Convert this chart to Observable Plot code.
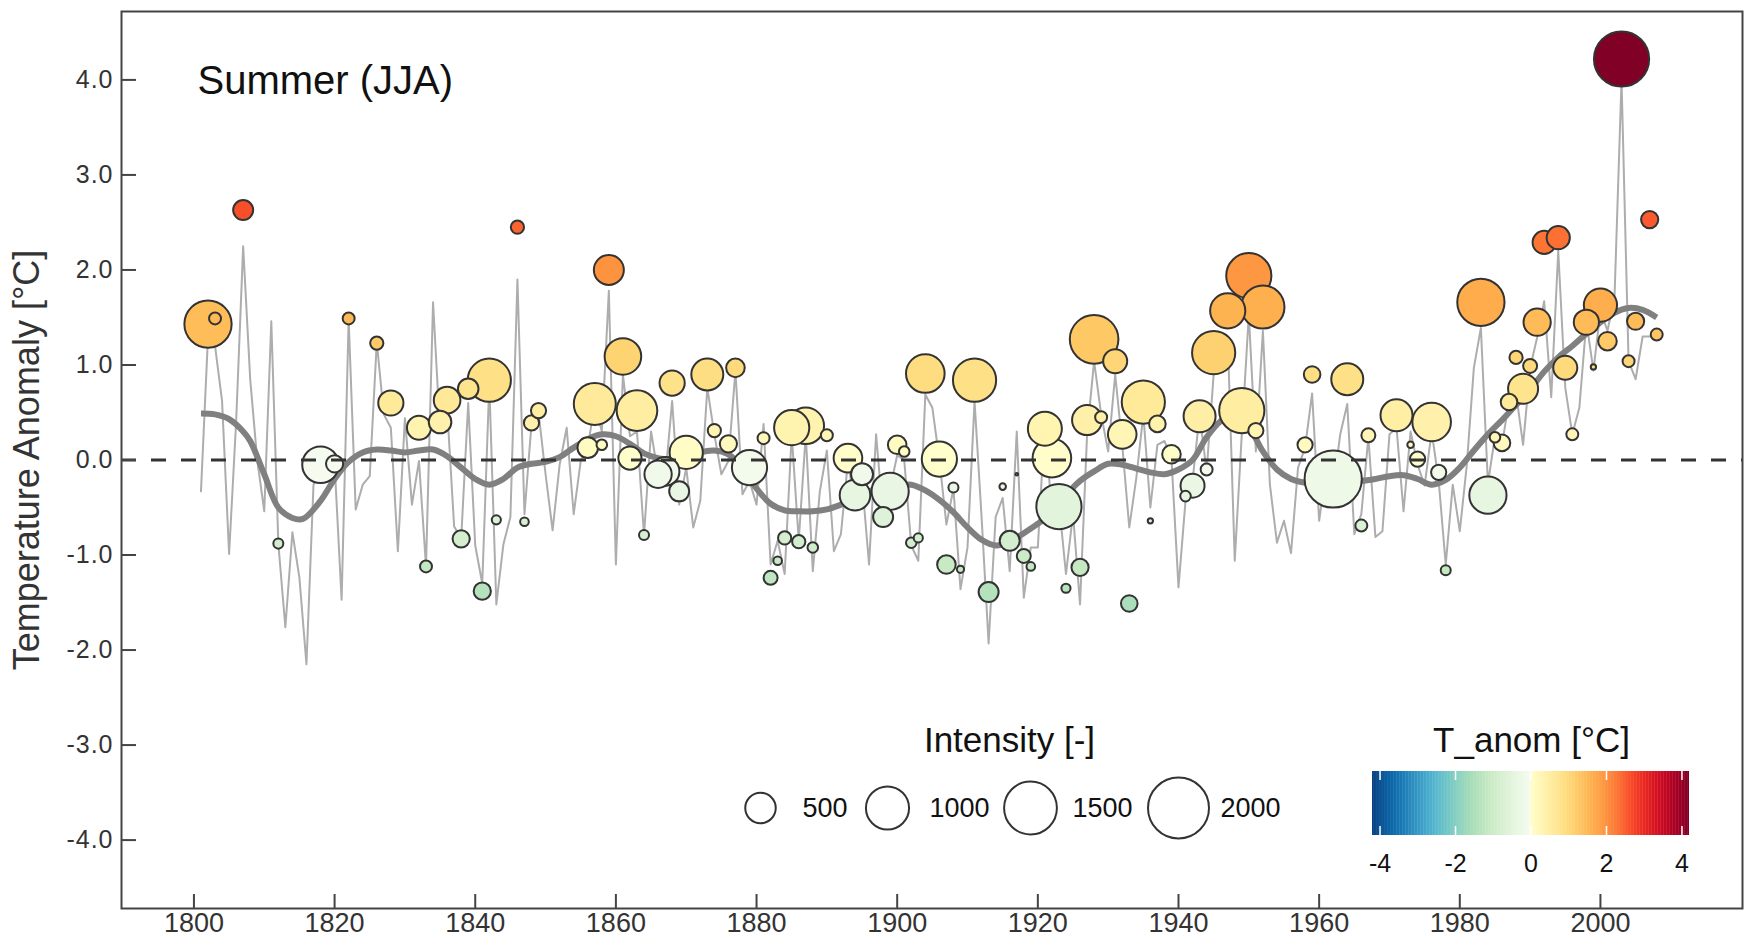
<!DOCTYPE html>
<html>
<head>
<meta charset="utf-8">
<script src="https://cdn.jsdelivr.net/npm/d3@7"></script>
<script src="https://cdn.jsdelivr.net/npm/@observablehq/plot@0.6"></script>
<style>
  body { margin: 0; background: #fff; }
  #wrap { position: relative; width: 1744px; height: 939px; overflow: hidden; }
  #wrap svg { position: absolute; left: 0; top: 0; }
</style>
</head>
<body>
<div id="wrap"></div>
<script>
// ---------------- DATA ----------------
const annualFirstYear = 1801;
// Summer (JJA) temperature anomaly, one value per year 1801..2008
const annualAnomaly = [
  -0.33, 1.30, 1.20, 0.62, -0.99, 0.40, 2.25, 0.85, 0.00, -0.54,
  1.46, -0.88, -1.76, -0.76, -1.24, -2.15, -0.26, -0.10, 0.05, -0.04,
  -1.47, 1.48, -0.52, -0.26, -0.17, 1.24, 0.48, 0.34, -0.96, 0.44,
  -0.47, -0.01, -1.12, 1.66, 0.30, 0.55, -0.70, -0.83, 0.60, -0.90,
  -1.30, 0.80, -1.52, -0.89, -0.60, 1.90, -0.57, 0.38, 0.50, -0.15,
  -0.74, -0.05, 0.34, -0.57, -0.01, 0.13, 0.60, 0.30, 1.78, -1.10,
  0.90, 0.25, 0.30, -0.79, 0.30, -0.15, -0.20, 0.62, -0.47, -0.08,
  -0.71, -0.43, 0.76, 0.27, -0.15, -0.01, 0.94, -0.36, -0.22, -0.47,
  0.38, -1.10, -0.85, -1.20, 0.27, -0.85, 0.27, -1.17, -0.33, 0.10,
  -0.96, -0.78, -0.01, -0.50, -0.22, -1.10, 0.27, -0.60, -0.30, 0.05,
  0.00, -0.90, -1.06, 0.69, 0.55, 0.00, -0.68, -0.30, -1.36, -0.92,
  0.62, -0.60, -1.93, -0.60, -0.40, -1.17, 0.30, -1.45, -0.92, -0.92,
  0.41, -0.57, -0.45, -1.20, -0.57, -1.52, 0.27, 1.04, 0.48, 0.09,
  0.90, 0.16, -0.71, -0.19, 0.48, -0.50, 0.16, 0.20, 0.02, -1.34,
  -0.43, -0.22, 0.48, -0.12, 0.90, 1.20, 1.30, -1.06, 0.27, 1.53,
  0.09, 1.36, -0.26, -0.87, -0.64, -0.98, -0.08, 0.13, 0.70, -0.64,
  -0.10, -0.30, 0.27, 0.59, -0.78, -0.57, 0.24, -0.81, -0.75, 0.27,
  0.34, -0.54, 0.30, -0.05, -0.27, 0.30, -0.22, -1.10, -0.26, -0.75,
  -0.05, 0.97, 1.39, -0.25, 0.25, 0.16, 0.62, 0.70, 0.16, 0.97,
  1.29, 1.67, 0.66, 2.20, 0.76, 0.27, 0.55, 1.46, 0.94, 1.57,
  1.36, 1.71, 4.00, 1.04, 0.85, 1.30, 1.30, 1.32
];

// smoothed curve (read at knots)
const smoothYears = [1801,1803,1805,1807,1808,1810,1812,1814,1815.5,1818,1820,1822,1824,1826,1828,1830,1832,1834,1836,1838,1840,1842,1844,1846,1848,1850,1852,1854,1856,1858,1860,1862,1864,1866,1868,1870,1872,1874,1876,1878,1880,1882,1884,1886,1888,1890,1892,1894,1896,1898,1900,1902,1904,1906,1908,1910,1912,1914,1916,1918,1920,1922,1924,1926,1928,1930,1932,1934,1936,1938,1940,1942,1944,1946,1948,1950,1952,1954,1956,1958,1960,1962,1964,1966,1968,1970,1972,1974,1976,1978,1980,1982,1984,1986,1988,1990,1992,1994,1996,1998,2000,2002,2004,2006,2008];
const smoothValues = [0.49,0.48,0.43,0.30,0.20,-0.15,-0.50,-0.61,-0.62,-0.43,-0.20,-0.02,0.08,0.11,0.10,0.08,0.10,0.11,0.04,-0.08,-0.20,-0.26,-0.20,-0.08,-0.04,-0.02,0.03,0.13,0.22,0.27,0.25,0.17,0.07,0.02,0.01,0.02,0.08,0.10,0.06,-0.08,-0.30,-0.46,-0.53,-0.54,-0.54,-0.52,-0.47,-0.41,-0.33,-0.29,-0.27,-0.26,-0.32,-0.42,-0.55,-0.71,-0.84,-0.90,-0.86,-0.77,-0.67,-0.55,-0.37,-0.22,-0.12,-0.04,-0.05,-0.09,-0.13,-0.15,-0.10,0.00,0.24,0.41,0.48,0.35,0.09,-0.10,-0.20,-0.24,-0.24,-0.22,-0.22,-0.22,-0.20,-0.17,-0.16,-0.20,-0.26,-0.21,-0.08,0.10,0.27,0.42,0.58,0.74,0.93,1.08,1.20,1.33,1.45,1.55,1.60,1.58,1.50];

// heat events: year, anomaly [°C], intensity [-]
const eventYears = [1802,1803,1807,1812,1818,1820,1822,1826,1828,1832,1833,1835,1836,1838,1839,1841,1842,1843,1846,1847,1848,1849,1856,1857,1858,1859,1861,1862,1863,1864,1866,1867,1868,1869,1870,1873,1874,1876,1877,1879,1881,1882,1883,1884,1885,1886,1887,1888,1890,1893,1894,1895,1898,1899,1900,1901,1902,1903,1904,1906,1907,1908,1909,1911,1913,1915,1916,1917,1918,1919,1921,1922,1923,1924,1926,1927,1928,1929,1931,1932,1933,1935,1936,1937,1939,1941,1942,1943,1944,1945,1947,1949,1950,1951,1952,1958,1959,1962,1964,1966,1967,1971,1973,1974,1976,1977,1978,1983,1984,1985,1986,1987,1988,1989,1990,1991,1992,1994,1995,1996,1998,1999,2000,2001,2003,2004,2005,2007,2008];
const eventAnomaly = [1.43,1.49,2.63,-0.88,-0.05,-0.04,1.49,1.23,0.60,0.34,-1.12,0.40,0.63,-0.83,0.75,-1.38,0.84,-0.63,2.45,-0.65,0.39,0.52,0.13,0.59,0.16,2.00,1.09,0.02,0.52,-0.79,-0.15,-0.12,0.81,-0.33,0.08,0.90,0.31,0.17,0.97,-0.08,0.23,-1.24,-1.06,-0.82,0.34,-0.86,0.36,-0.92,0.26,0.02,-0.37,-0.15,-0.60,-0.33,0.16,0.09,-0.87,-0.82,0.91,0.01,-1.10,-0.29,-1.15,0.84,-1.39,-0.28,-0.85,-0.15,-1.01,-1.12,0.33,0.02,-0.49,-1.35,-1.13,0.42,1.27,0.45,1.04,0.27,-1.51,0.61,-0.64,0.38,0.06,-0.38,-0.27,0.46,-0.10,1.13,1.57,0.52,1.94,0.31,1.61,0.16,0.90,-0.20,0.85,-0.69,0.26,0.47,0.16,0.01,0.40,-0.13,-1.16,1.66,-0.37,0.24,0.18,0.61,1.08,0.75,0.99,1.45,2.29,2.34,0.97,0.27,1.45,0.98,1.63,1.25,4.22,1.04,1.46,2.53,1.32];
const eventIntensity = [1200,77,215,54,720,159,77,94,341,310,77,275,380,159,228,159,1003,45,94,40,124,124,228,948,60,484,720,289,886,54,400,440,341,215,593,550,94,159,186,666,77,105,40,94,666,94,720,60,77,440,503,260,215,744,186,60,60,45,801,666,186,54,28,1003,215,23,215,4,105,40,621,801,1098,45,159,484,1270,77,310,440,148,1003,15,148,186,60,310,550,77,1003,666,1098,1098,124,1003,124,148,1759,550,77,105,550,23,124,801,124,54,1200,744,60,148,148,94,484,105,398,289,289,310,77,341,15,593,186,1638,77,159,159,77];

// ticks / legend values
const yTicks = [-4, -3, -2, -1, 0, 1, 2, 3, 4];
const xTicks = [1800, 1820, 1840, 1860, 1880, 1900, 1920, 1940, 1960, 1980, 2000];
const sizeLegendValues = [500, 1000, 1500, 2000];
const colorTicks = [-4, -2, 0, 2, 4];
const panelTitle = "Summer (JJA)";
const yTitle = "Temperature Anomaly [°C]";
const sizeTitle = "Intensity [-]";
const colorTitle = "T_anom [°C]";

// ---------------- TABLES ----------------
const annual = annualAnomaly.map((v, i) => ({year: annualFirstYear + i, anom: v}));
const smooth = smoothYears.map((y, i) => ({year: y, anom: smoothValues[i]}));
const events = eventYears.map((y, i) => ({year: y, anom: eventAnomaly[i], intensity: eventIntensity[i]}));

// ---------------- SCALES ----------------
const font = "'Liberation Sans', Arial, Helvetica, sans-serif";
const W = 1744, H = 939;
const mL = 121, mR = 2, mT = 11, mB = 31;
const innerW = W - mL - mR, innerH = H - mT - mB;

const tempInterp = t => t < 0.5 ? d3.interpolateGnBu((0.5 - t) * 2) : d3.interpolateYlOrRd((t - 0.5) * 2);
const colorOpts = {type: "linear", domain: [-4.2, 4.2], interpolate: tempInterp, clamp: true};
const rOpts = {type: "sqrt", domain: [0, 2000], range: [0, 30.5]};

const wrap = document.getElementById("wrap");

const main = Plot.plot({
  width: W, height: H,
  marginLeft: mL, marginRight: mR, marginTop: mT, marginBottom: mB,
  style: {fontFamily: font, color: "#333", background: "white"},
  x: {domain: [1789.7, 2020.2]},
  y: {domain: [-4.72, 4.72]},
  color: colorOpts,
  r: rOpts,
  marks: [
    Plot.lineY(annual, {x: "year", y: "anom", stroke: "#adadad", strokeWidth: 2}),
    Plot.line(smooth, {x: "year", y: "anom", stroke: "#808080", strokeWidth: 6, curve: "catmull-rom", strokeLinecap: "butt"}),
    Plot.dot(events, {x: "year", y: "anom", r: "intensity", fill: "anom", stroke: "#333", strokeWidth: 2}),
    Plot.ruleY([0], {stroke: "#333", strokeWidth: 3, strokeDasharray: "15,15"}),
    Plot.ruleY(yTicks, {y: d => d, stroke: "#444", strokeWidth: 2, insetRight: innerW - 15}),
    Plot.ruleX(xTicks, {x: d => d, stroke: "#444", strokeWidth: 2, insetTop: innerH - 14}),
    Plot.axisY(yTicks, {tickSize: 0, tickPadding: 8, tickFormat: d => d.toFixed(1), fontSize: 25, label: null}),
    Plot.axisX(xTicks, {tickSize: 0, tickPadding: 4, tickFormat: d => String(d), fontSize: 27, label: null}),
    Plot.frame({stroke: "#444", strokeWidth: 2}),
    Plot.text([panelTitle], {frameAnchor: "top-left", dx: 76, dy: 70, textAnchor: "start", lineAnchor: "middle", fontSize: 40, fill: "#111"}),
    Plot.text([yTitle], {frameAnchor: "left", dx: -94, rotate: -90, textAnchor: "middle", lineAnchor: "middle", fontSize: 36, fill: "#333"})
  ]
});
wrap.appendChild(main);
// slightly wider spacing of the y tick labels, as in the original
d3.select(main).selectAll("g[aria-label='y-axis tick label'] text").attr("letter-spacing", "1px");

// ---------------- SIZE LEGEND ----------------
const sizeLegend = Plot.plot({
  width: W, height: H, margin: 0,
  style: {fontFamily: font, color: "#111", background: "transparent"},
  x: {type: "linear", domain: sizeLegendValues, range: [760, 887, 1030, 1178], axis: null},
  r: rOpts,
  marks: [
    Plot.dot(sizeLegendValues, {x: d => d, r: d => d, dy: 807.5 - H / 2, fill: "none", stroke: "#333", strokeWidth: 2}),
    Plot.text(sizeLegendValues, {x: d => d, text: d => String(d), dx: 42, dy: 808 - H / 2, textAnchor: "start", lineAnchor: "middle", fontSize: 27, fill: "#111"}),
    Plot.text([sizeTitle], {frameAnchor: "top-left", dx: 1009, dy: 740, textAnchor: "middle", lineAnchor: "middle", fontSize: 35, fill: "#111"})
  ]
});
sizeLegend.style.pointerEvents = "none";
wrap.appendChild(sizeLegend);

// ---------------- COLOR BAR ----------------
const barSlices = d3.range(-4.2, 4.2, 0.04);
const barTop = 771, barBottom = 835;
const colorLegend = Plot.plot({
  width: W, height: H, margin: 0,
  style: {fontFamily: font, color: "#111", background: "transparent"},
  x: {type: "linear", domain: [-4.2, 4.2], range: [1372, 1689], axis: null},
  color: colorOpts,
  marks: [
    Plot.rect(barSlices, {x1: d => d, x2: d => Math.min(4.2, d + 0.05), fill: d => d + 0.02, insetTop: barTop, insetBottom: H - barBottom}),
    Plot.ruleX(colorTicks, {x: d => d, stroke: "white", strokeWidth: 1.5, insetTop: barTop, insetBottom: H - barTop - 9}),
    Plot.ruleX(colorTicks, {x: d => d, stroke: "white", strokeWidth: 1.5, insetTop: barBottom - 9, insetBottom: H - barBottom}),
    Plot.text(colorTicks, {x: d => d, text: d => String(d), dy: 863 - H / 2, lineAnchor: "middle", fontSize: 25, fill: "#111"}),
    Plot.text([colorTitle], {frameAnchor: "top-left", dx: 1531, dy: 740, textAnchor: "middle", lineAnchor: "middle", fontSize: 35, fill: "#111"})
  ]
});
colorLegend.style.pointerEvents = "none";
wrap.appendChild(colorLegend);
</script>
</body>
</html>
